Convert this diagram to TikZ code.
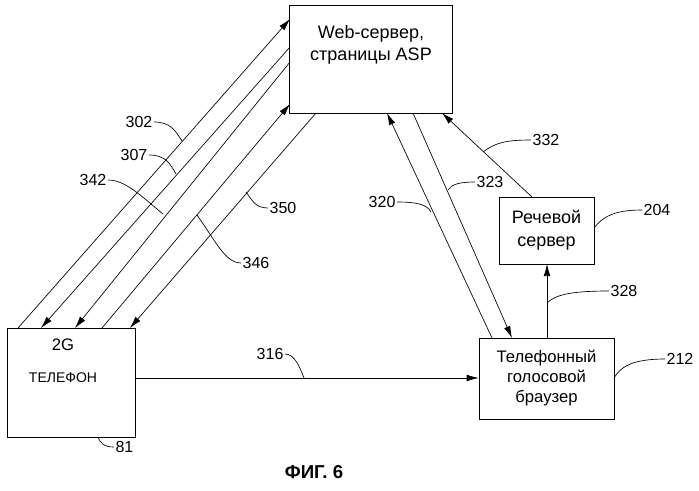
\documentclass[tikz,border=0pt]{standalone}
\usepackage{fontspec}
\setmainfont{Liberation Sans}
\usetikzlibrary{arrows.meta}
\begin{document}
\begin{tikzpicture}[x=0.75pt,y=-0.75pt,
 box/.style={draw,inner sep=0pt},
 arr/.style={-{Latex[length=9pt,width=5pt]},line width=0.5pt},
 lead/.style={line width=0.5pt},
 lbl/.style={font=\fontsize{12}{14}\selectfont,inner sep=1pt}]
\useasboundingbox (0,0) rectangle (699,490);
\node[box,minimum width=163*0.75pt,minimum height=108*0.75pt] (web) at (371,59) {};
\node[align=center,font=\fontsize{13.5}{17}\selectfont] (webt) at (371,45) {Web-сервер,\\страницы ASP};
\node[box,minimum width=95*0.75pt,minimum height=67*0.75pt,align=center,font=\fontsize{13.5}{17}\selectfont] (sp) at (546.5,230.5) {Речевой\\сервер};
\node[box,minimum width=135*0.75pt,minimum height=81*0.75pt,align=center,font=\fontsize{12.5}{15}\selectfont] (br) at (546.5,378.5) {Телефонный\\голосовой\\браузер};
\node[box,minimum width=128*0.75pt,minimum height=109*0.75pt] (ph) at (71,382.5) {};
\node[font=\fontsize{12.5}{14}\selectfont] (ph1) at (63,345) {2G};
\node[font=\fontsize{10.5}{12}\selectfont] (ph2) at (63,378) {ТЕЛЕФОН};
% coordinates
\coordinate (a1) at (18,328); \coordinate (b1) at (290,19);
\coordinate (a2) at (41,328); \coordinate (b2) at (290,47);
\coordinate (a3) at (75,328); \coordinate (b3) at (290,62);
\coordinate (a4) at (102,328); \coordinate (b4) at (290,104);
\coordinate (a5) at (130,328); \coordinate (b5) at (316,113);
\draw[arr] (a1) -- (b1);
\draw[arr] (b2) -- (a2);
\draw[arr] (b3) -- (a3);
\draw[arr] (a4) -- (b4);
\draw[arr] (b5) -- (a5);
\coordinate (c1) at (492,338); \coordinate (d1) at (387,113);
\coordinate (c2) at (512,338); \coordinate (d2) at (413,113);
\coordinate (c3) at (532,197); \coordinate (d3) at (442,113);
\draw[arr] (c1) -- (d1);
\draw[arr] (d2) -- (c2);
\draw[arr] (c3) -- (d3);
\draw[arr] (547,338) -- (547,264);
\draw[arr] (ph.east |- 0,378) -- (br.west |- 0,378);
% labels
\node[lbl,anchor=east] (l302) at (154,122) {302};
\draw[lead] (l302.east) .. controls (170,122) and (175,130) .. (182,141);
\node[lbl,anchor=east] (l307) at (149,155) {307};
\draw[lead] (l307.east) .. controls (165,155) and (170,163) .. (176,174);
\node[lbl,anchor=east] (l342) at (108,180) {342};
\draw[lead] (l342.east) .. controls (125,180) and (140,195) .. (163,214);
\node[lbl,anchor=west] (l350) at (268,208) {350};
\draw[lead] (l350.west) .. controls (255,208) and (252,200) .. (246,192);
\node[lbl,anchor=west] (l346) at (241,263) {346};
\draw[lead] (l346.west) .. controls (225,263) and (215,240) .. (197,215);
\node[lbl,anchor=west] (l332) at (531,140) {332};
\draw[lead] (l332.west) .. controls (505,140) and (495,143) .. (483,152);
\node[lbl,anchor=west] (l323) at (475,182) {323};
\draw[lead] (l323.west) .. controls (460,182) and (452,184) .. (448,190);
\node[lbl,anchor=east] (l320) at (397,202) {320};
\draw[lead] (l320.east) .. controls (415,202) and (427,204) .. (431,212);
\node[lbl,anchor=west] (l328) at (609,291) {328};
\draw[lead] (l328.west) .. controls (570,291) and (555,295) .. (547,303);
\node[lbl,anchor=west] (l204) at (642,210) {204};
\draw[lead] (l204.west) .. controls (612,210) and (602,218) .. (594,228);
\node[lbl,anchor=west] (l212) at (665,359) {212};
\draw[lead] (l212.west) .. controls (630,359) and (620,368) .. (614,378);
\node[lbl,anchor=east] (l316) at (285,354) {316};
\draw[lead] (l316.east) .. controls (295,354) and (300,368) .. (304,378);
\node[lbl,anchor=west] (l81) at (114,447) {81};
\draw[lead] (l81.west) .. controls (104,447) and (100,443) .. (98,437);
\node[font=\bfseries\fontsize{14}{16}\selectfont] (fig) at (314,472) {ФИГ. 6};
\end{tikzpicture}
\end{document}
